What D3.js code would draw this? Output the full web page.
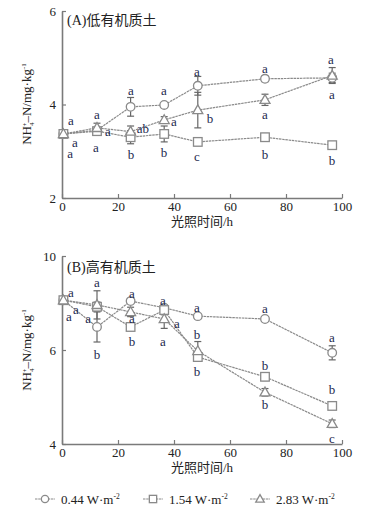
<!DOCTYPE html>
<html><head><meta charset="utf-8">
<script src="https://cdn.jsdelivr.net/npm/d3@7"></script>
<style>html,body{margin:0;padding:0;background:#fff;}svg{display:block;}</style>
</head><body>
<script>
// ---- data ----
const times = [0.5, 12.5, 24.5, 36.5, 48.5, 72.5, 96.5];
const seriesNames = ["0.44 W·m", "1.54 W·m", "2.83 W·m"];
const markerTypes = ["circle", "square", "triangle"];

const aCircle = [3.37, 3.45, 3.95, 3.99, 4.40, 4.55, 4.57];
const aSquare = [3.37, 3.43, 3.30, 3.37, 3.20, 3.30, 3.13];
const aTriangle = [3.37, 3.50, 3.42, 3.67, 3.88, 4.10, 4.62];
const aCircleErr = [0.03, 0.05, 0.20, 0.05, 0.20, 0.06, 0.10];
const aSquareErr = [0.03, 0.05, 0.14, 0.17, 0.08, 0.08, 0.06];
const aTriangleErr = [0.03, 0.10, 0.12, 0.07, 0.38, 0.12, 0.17];

const bCircle = [7.06, 6.49, 7.04, 6.90, 6.72, 6.66, 5.94];
const bSquare = [7.06, 6.92, 6.49, 6.85, 5.85, 5.43, 4.81];
const bTriangle = [7.06, 6.96, 6.81, 6.66, 5.98, 5.10, 4.43];
const bCircleErr = [0.03, 0.32, 0.05, 0.05, 0.05, 0.05, 0.15];
const bSquareErr = [0.03, 0.10, 0.05, 0.10, 0.05, 0.08, 0.06];
const bTriangleErr = [0.03, 0.30, 0.10, 0.20, 0.20, 0.08, 0.08];

const xTicks = [0, 20, 40, 60, 80, 100];
const aYTicks = [2, 4, 6];
const aYTickLabels = ["2", "4", "6"];
const bYTicks = [4, 6, 8];
const bYTickLabels = ["4", "6", "10"];

// significance letters: [letter, time, value]
const aLetters = [
  ["a",3.2,3.65],["a",4.6,3.18],["a",2.9,2.96],
  ["a",12.5,3.78],["a",16.4,3.43],["a",12.1,3.07],
  ["a",24.6,4.31],["ab",28.9,3.48],["b",24.6,2.94],
  ["a",36.4,4.31],["a",40,3.63],["b",36.4,2.98],
  ["a",48.2,4.70],["b",52.9,3.71],["c",48.2,2.88],
  ["a",72.5,4.76],["a",72.5,3.78],["b",72.5,2.94],
  ["a",96,4.97],["a",96.4,4.22],["b",96.4,2.81]
];
const bLetters = [
  ["a",3.2,7.23],["a",5,6.87],["a",2.5,6.72],
  ["a",12.5,7.43],["a",9.3,6.68],["b",12.5,5.91],
  ["a",25,7.21],["a",25,6.68],["b",25,6.19],
  ["a",36,7.06],["a",41,6.57],["a",36,6.19],
  ["a",48.2,6.91],["b",48.2,6.34],["b",48.2,5.55],
  ["a",72.5,6.89],["b",72.5,5.68],["b",72.5,4.85],
  ["a",96.4,6.26],["b",96.4,5.15],["c",96.4,4.11]
];

// ---- drawing ----
const W = 381, H = 511;
const svg = d3.select("body").append("svg").attr("width", W).attr("height", H);
const serif = "'Liberation Serif','Times New Roman','DejaVu Serif',serif";
const cjk = "'Liberation Serif','Times New Roman','Noto Sans CJK SC',serif";
const grey = "#8a8a8a";
const axisCol = "#7a7a7a";
const letterCol = "#23284f";

function marker(g, type, x, y, s = 1) {
  if (type === "circle") {
    g.append("circle").attr("cx", x).attr("cy", y).attr("r", 4.3 * s)
      .attr("fill", "#fff").attr("stroke", grey).attr("stroke-width", 1.3);
  } else if (type === "square") {
    g.append("rect").attr("x", x - 4.3 * s).attr("y", y - 4.3 * s).attr("width", 8.6 * s).attr("height", 8.6 * s)
      .attr("fill", "#fff").attr("stroke", grey).attr("stroke-width", 1.3);
  } else {
    g.append("path").attr("d", `M${x},${y-5.2*s}L${x+5*s},${y+3.6*s}L${x-5*s},${y+3.6*s}Z`)
      .attr("fill", "#fff").attr("stroke", grey).attr("stroke-width", 1.3);
  }
}

function panel(cfg) {
  const x = d3.scaleLinear().domain([0, 100]).range([62, 342]);
  const y = d3.scaleLinear().domain(cfg.yDomain).range(cfg.yRange);
  const g = svg.append("g");

  // axes
  const xa = g.append("g").attr("transform", `translate(0,${cfg.yRange[0]})`)
    .call(d3.axisBottom(x).tickValues(xTicks).tickSizeInner(-4).tickSizeOuter(0).tickPadding(6));
  const ya = g.append("g").attr("transform", `translate(62,0)`)
    .call(d3.axisLeft(y).tickValues(cfg.yTicks).tickFormat((d, i) => cfg.yTickLabels[i])
      .tickSizeInner(-4).tickSizeOuter(0).tickPadding(6));
  [xa, ya].forEach(a => {
    a.attr("font-family", null);
    a.select(".domain").attr("stroke", axisCol).attr("stroke-width", 1.6);
    a.selectAll(".tick line").attr("stroke", axisCol).attr("stroke-width", 1.2);
    a.selectAll(".tick text").attr("fill", "#222").attr("font-family", serif).attr("font-size", "13px");
  });
  xa.selectAll(".tick text").attr("dy", "0.5em");

  // series
  const series = [
    [cfg.c, cfg.ce], [cfg.s, cfg.se], [cfg.t, cfg.te]
  ];
  const line = d3.line().x((d, i) => x(times[i])).y(d => y(d));
  series.forEach(([vals]) => {
    g.append("path").datum(vals).attr("d", line).attr("fill", "none")
      .attr("stroke", grey).attr("stroke-width", 1.2).attr("stroke-dasharray", "2.5,0.7");
  });
  series.forEach(([vals, errs]) => {
    vals.forEach((v, i) => {
      const cx = x(times[i]);
      const y0 = y(v - errs[i]), y1 = y(v + errs[i]);
      g.append("line").attr("x1", cx).attr("x2", cx).attr("y1", y0).attr("y2", y1)
        .attr("stroke", "#666").attr("stroke-width", 1.2);
      [y0, y1].forEach(yy => g.append("line").attr("x1", cx - 3.5).attr("x2", cx + 3.5)
        .attr("y1", yy).attr("y2", yy).attr("stroke", "#666").attr("stroke-width", 1.2));
    });
  });
  series.forEach(([vals], si) => {
    vals.forEach((v, i) => marker(g, markerTypes[si], x(times[i]), y(v)));
  });

  // letters
  cfg.letters.forEach(([txt, t, v]) => {
    g.append("text").attr("x", x(t)).attr("y", y(v)).attr("text-anchor", "middle")
      .attr("dominant-baseline", "central").attr("fill", letterCol)
      .attr("font-family", serif).attr("font-size", "13px").text(txt);
  });

  // panel title
  g.append("text").attr("x", 67).attr("y", cfg.titleY).attr("fill", "#222")
    .attr("font-family", cjk).attr("font-size", "14px").text(cfg.title);

  // x axis title
  g.append("text").attr("x", 202).attr("y", cfg.yRange[0] + 28).attr("text-anchor", "middle")
    .attr("fill", "#222").attr("font-family", cjk).attr("font-size", "13px").text("光照时间/h");

  // y axis title
  const yt = g.append("text").attr("transform", `translate(31,${cfg.yTitleY}) rotate(-90)`)
    .attr("text-anchor", "middle").attr("fill", "#222")
    .attr("font-family", serif).attr("font-size", "13px");
  yt.append("tspan").text("NH");
  yt.append("tspan").attr("font-size", "7px").attr("dy", "3").text("4");
  yt.append("tspan").attr("font-size", "7px").attr("dy", "-7").attr("dx", "-4").text("+");
  yt.append("tspan").attr("dy", "4").text("–N/mg·kg");
  yt.append("tspan").attr("font-size", "7px").attr("dy", "-5").text("-1");
}

panel({
  yDomain: [2, 6], yRange: [198, 11], yTicks: aYTicks, yTickLabels: aYTickLabels,
  c: aCircle, s: aSquare, t: aTriangle, ce: aCircleErr, se: aSquareErr, te: aTriangleErr,
  letters: aLetters, title: "(A)低有机质土", titleY: 25, yTitleY: 104
});
panel({
  yDomain: [4, 8], yRange: [444, 256], yTicks: bYTicks, yTickLabels: bYTickLabels,
  c: bCircle, s: bSquare, t: bTriangle, ce: bCircleErr, se: bSquareErr, te: bTriangleErr,
  letters: bLetters, title: "(B)高有机质土", titleY: 272, yTitleY: 350
});

// legend
const legX = [35, 143, 250];
const lg = svg.append("g");
seriesNames.forEach((name, i) => {
  const x0 = legX[i], yy = 499;
  lg.append("line").attr("x1", x0).attr("x2", x0 + 20).attr("y1", yy).attr("y2", yy)
    .attr("stroke", grey).attr("stroke-width", 1.2).attr("stroke-dasharray", "2.5,0.7");
  marker(lg, markerTypes[i], x0 + 10, yy, 0.85);
  const t = lg.append("text").attr("x", x0 + 26).attr("y", yy + 4.5).attr("fill", "#222")
    .attr("font-family", serif).attr("font-size", "13px");
  t.append("tspan").text(name);
  t.append("tspan").attr("font-size", "7.5px").attr("dy", "-5").text("-2");
});
</script>
</body></html>
